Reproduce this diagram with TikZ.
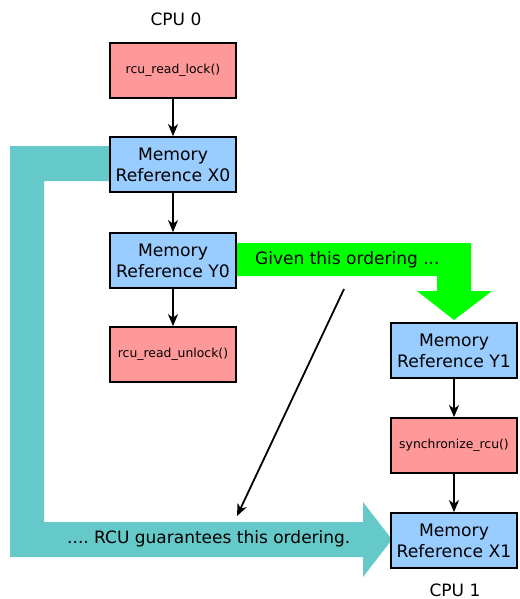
\documentclass[tikz,border=0pt]{standalone}
\usepackage{fontspec}
\setmainfont{DejaVu Sans}
\usetikzlibrary{arrows.meta}
\frenchspacing
\definecolor{salmon}{HTML}{FF9999}
\definecolor{memblue}{HTML}{99CCFF}
\definecolor{teal2}{HTML}{66C9C9}
\definecolor{brightgreen}{HTML}{00FF00}
\tikzset{
  box/.style={draw=black, line width=1.7pt, minimum width=126pt, minimum height=55pt, inner sep=0pt, align=center},
  memref/.style={box, fill=memblue, font=\fontsize{17.2}{21}\selectfont},
  rcufn/.style={box, fill=salmon, font=\fontsize{12.4}{14}\selectfont},
  lbl/.style={font=\fontsize{17}{20}\selectfont, inner sep=0pt},
  conn/.style={line width=1.8pt, -{Stealth[length=12pt,width=10pt,inset=3.5pt]}}
}
\begin{document}
\frenchspacing
\begin{tikzpicture}[x=1pt,y=-1pt]
\useasboundingbox (0,0) rectangle (519,599);
% teal big arrow
\fill[teal2] (10,146) -- (110,146) -- (110,181) -- (44,181) -- (44,522) -- (363,522) -- (363,502) -- (392,539.5) -- (363,577) -- (363,557) -- (10,557) -- cycle;
% green big arrow
\fill[brightgreen] (230,243) -- (471,243) -- (471,291) -- (492,291) -- (454,320) -- (417,291) -- (437,291) -- (437,276) -- (230,276) -- cycle;

\node[lbl] (cpu0) at (176,19) {CPU 0};
\node[lbl] (cpu1) at (455,590) {CPU 1};

\node[rcufn] (lock) at (173,70.5) {rcu\_read\_lock()};
\node[memref] (x0) at (173,164.5) {Memory\\Reference X0};
\node[memref] (y0) at (173,260.5) {Memory\\Reference Y0};
\node[rcufn] (unlock) at (173,354.5) {rcu\_read\_unlock()};

\node[memref] (y1) at (454,350.5) {Memory\\Reference Y1};
\node[rcufn] (sync) at (454,445.5) {synchronize\_rcu()};
\node[memref] (x1) at (454,540.5) {Memory\\Reference X1};

\node[lbl, anchor=west] (given) at (255,260) {Given this ordering ...};
\node[lbl, anchor=west] (guar) at (67,539) {.... RCU guarantees this ordering.};

\draw[conn] (lock) -- (x0);
\draw[conn] (x0) -- (y0);
\draw[conn] (y0) -- (unlock);
\draw[conn] (y1) -- (sync);
\draw[conn] (sync) -- (x1);

\coordinate (dstart) at (344,289);
\coordinate (dend) at (237,516);
\draw[conn] (dstart) -- (dend);
\end{tikzpicture}
\end{document}
